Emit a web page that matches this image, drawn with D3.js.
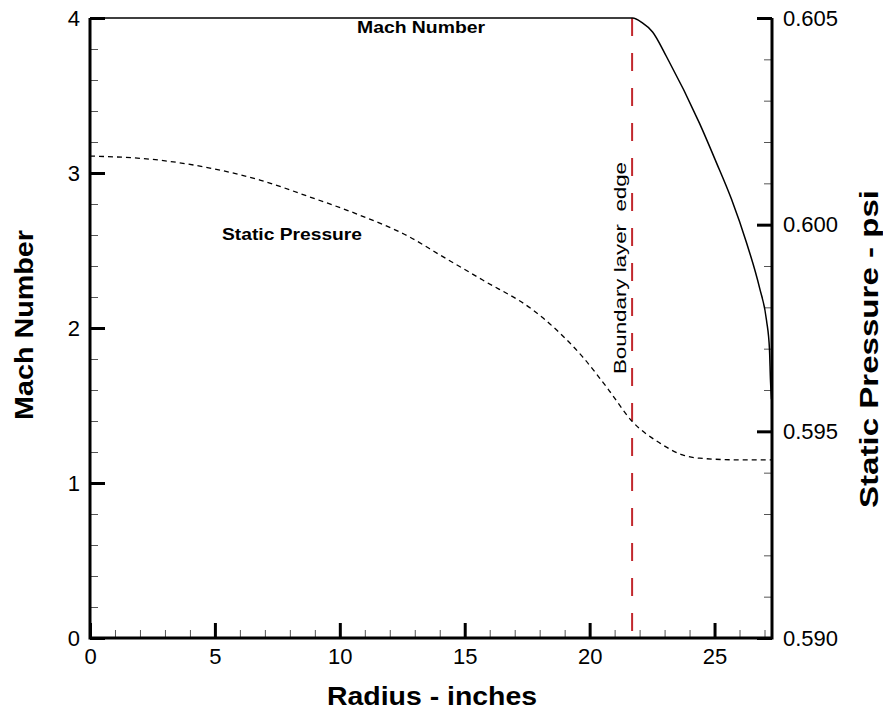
<!DOCTYPE html>
<html>
<head>
<meta charset="utf-8">
<script src="https://cdn.jsdelivr.net/npm/d3@7"></script>
<style>
  body { margin: 0; background: #fff; }
  svg { font-family: "Liberation Sans", Arial, Helvetica, sans-serif; }
</style>
</head>
<body>
<svg id="chart" width="883" height="713"></svg>
<script>
// radius (inches) vs Mach number
var machRadius = [0, 21.72, 22.1, 22.52, 23.08, 24.4, 25.04, 25.68, 26.28, 26.8, 27.08, 27.2, 27.24, 27.28];
var machValues = [4.0, 4.0, 3.97, 3.91, 3.75, 3.32, 3.08, 2.83, 2.55, 2.26, 2.05, 1.86, 1.66, 1.54];

// radius (inches) vs static pressure (psi)
var presRadius = [0, 2.8, 4.8, 6.8, 8.8, 10.8, 12.8, 14.0, 15.72, 17.72, 18.68, 19.72, 20.68, 21.72, 22.8, 23.72, 24.4, 26.0, 27.3];
var presValues = [0.60166, 0.60156, 0.60137, 0.60108, 0.60067, 0.60023, 0.59970, 0.59927, 0.59866, 0.59794, 0.59745, 0.59680, 0.59607, 0.59523, 0.59472, 0.59443, 0.59435, 0.59431, 0.59431];

var boundaryEdge = 21.7;

var xTicks = [0, 5, 10, 15, 20, 25];
var machTicks = [0, 1, 2, 3, 4];
var presTicks = [0.590, 0.595, 0.600, 0.605];

var svg = d3.select("#chart");
var plotL = 90, plotR = 772, plotT = 18, plotB = 638;

var x = d3.scaleLinear().domain([0, 27.3]).range([plotL, plotR]);
var yM = d3.scaleLinear().domain([0, 4]).range([plotB, plotT]);
var yP = d3.scaleLinear().domain([0.590, 0.605]).range([plotB, plotT]);

function styleAxis(g, width, color) {
    g.select(".domain").remove();
    g.selectAll(".tick line").attr("stroke", color).attr("stroke-width", width);
    g.selectAll(".tick text").attr("fill", "#000").attr("font-size", 22);
}

// minor ticks
var xMinor = d3.range(0, 28, 1).filter(function (d) { return d % 5 != 0; });
var mMinor = d3.range(0, 4.01, 0.2).filter(function (d) { return Math.abs(d - Math.round(d)) > 0.01; });
var pMinor = d3.range(0.590, 0.6051, 0.001).filter(function (d) { return Math.abs(d * 200 - Math.round(d * 200)) > 0.01; });

svg.append("g").attr("transform", "translate(0," + plotB + ")")
    .call(d3.axisBottom(x).tickValues(xMinor).tickSize(-8).tickFormat(""))
    .call(styleAxis, 1, "#555");
svg.append("g").attr("transform", "translate(" + plotL + ",0)")
    .call(d3.axisLeft(yM).tickValues(mMinor).tickSize(-8).tickFormat(""))
    .call(styleAxis, 1, "#555");
svg.append("g").attr("transform", "translate(" + plotR + ",0)")
    .call(d3.axisRight(yP).tickValues(pMinor).tickSize(-8).tickFormat(""))
    .call(styleAxis, 1, "#555");

// major ticks
svg.append("g").attr("transform", "translate(0," + plotB + ")")
    .call(d3.axisBottom(x).tickValues(xTicks).tickSize(-15).tickPadding(10).tickFormat(d3.format("d")))
    .call(styleAxis, 3, "#000");
svg.append("g").attr("transform", "translate(" + plotL + ",0)")
    .call(d3.axisLeft(yM).tickValues(machTicks).tickSize(-15).tickPadding(10).tickFormat(d3.format("d")))
    .call(styleAxis, 3, "#000");
svg.append("g").attr("transform", "translate(" + plotR + ",0)")
    .call(d3.axisRight(yP).tickValues(presTicks).tickSize(-15).tickPadding(11).tickFormat(d3.format(".3f")))
    .call(styleAxis, 3, "#000");

// axis lines
svg.append("path")
    .attr("d", "M" + plotL + "," + plotT + "V" + plotB + "H" + plotR + "V" + plotT)
    .attr("fill", "none").attr("stroke", "#000").attr("stroke-width", 3);

// boundary layer edge
svg.append("line")
    .attr("x1", x(boundaryEdge)).attr("x2", x(boundaryEdge))
    .attr("y1", plotT).attr("y2", plotB)
    .attr("stroke", "#c1272d").attr("stroke-width", 2)
    .attr("stroke-dasharray", "18,17");

var machLine = d3.line()
    .x(function (d, i) { return x(machRadius[i]); })
    .y(function (d) { return yM(d); })
    .curve(d3.curveMonotoneX);

var presLine = d3.line()
    .x(function (d, i) { return x(presRadius[i]); })
    .y(function (d) { return yP(d); })
    .curve(d3.curveMonotoneX);

svg.append("path").datum(machValues)
    .attr("d", machLine)
    .attr("fill", "none").attr("stroke", "#000").attr("stroke-width", 1.5);

svg.append("path").datum(presValues)
    .attr("d", presLine)
    .attr("fill", "none").attr("stroke", "#000").attr("stroke-width", 1.3)
    .attr("stroke-dasharray", "5,4");

// labels (the original font is wider, so stretch to the measured lengths)
function label(t, size, bold, len) {
    t.attr("text-anchor", "middle").attr("font-size", size)
        .attr("font-weight", bold ? "bold" : "normal")
        .attr("textLength", len).attr("lengthAdjust", "spacingAndGlyphs");
    return t;
}

svg.append("text").attr("x", 421).attr("y", 33)
    .call(label, 16, true, 128).text("Mach Number");
svg.append("text").attr("x", 292).attr("y", 240)
    .call(label, 17, true, 140).text("Static Pressure");
svg.append("text")
    .attr("transform", "translate(626,268) rotate(-90)")
    .call(label, 17, false, 212)
    .style("white-space", "pre")
    .text("Boundary layer  edge");

svg.append("text").attr("x", 432).attr("y", 705)
    .call(label, 25, true, 210).text("Radius - inches");
svg.append("text")
    .attr("transform", "translate(33,325) rotate(-90)")
    .call(label, 25, true, 190).text("Mach Number");
svg.append("text")
    .attr("transform", "translate(878,349) rotate(-90)")
    .call(label, 25, true, 318).text("Static Pressure - psi");
</script>
</body>
</html>
